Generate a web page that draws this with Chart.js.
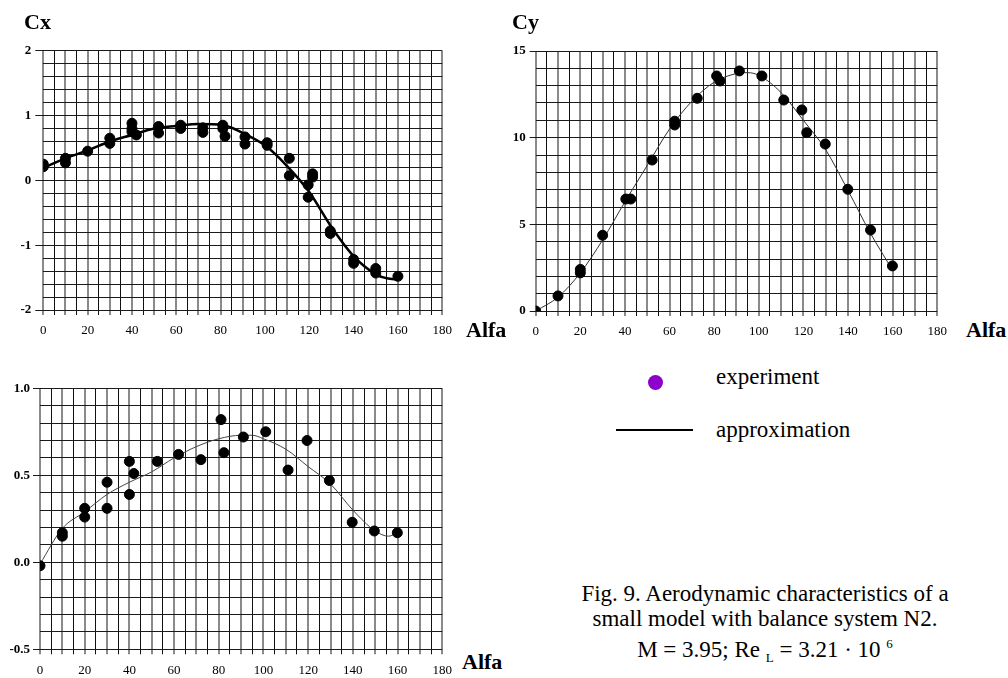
<!DOCTYPE html>
<html>
<head>
<meta charset="utf-8">
<script src="https://cdn.jsdelivr.net/npm/chart.js@4.4.0/dist/chart.umd.min.js"></script>
<style>
  body { margin: 0; background: #fff; width: 1008px; height: 678px; position: relative; overflow: hidden; font-family: "Times New Roman", Times, "Liberation Serif", "DejaVu Serif", serif; color: #000; }
  canvas { position: absolute; }
  .ttl { position: absolute; font-weight: bold; font-size: 22px; line-height: 22px; }
  .txt { position: absolute; font-size: 23px; line-height: 25px; }
</style>
</head>
<body>
<canvas id="chartCx" width="460" height="345" style="left:0;top:0"></canvas>
<canvas id="chartCy" width="460" height="345" style="left:495px;top:0"></canvas>
<canvas id="chartMz" width="460" height="328" style="left:0;top:350px"></canvas>

<div class="ttl" style="left:24px;top:11px">Cx</div>
<div class="ttl" style="left:512px;top:11px">Cy</div>
<div class="ttl" style="left:466px;top:319px">Alfa</div>
<div class="ttl" style="left:966px;top:319px">Alfa</div>
<div class="ttl" style="left:462px;top:651px">Alfa</div>

<!-- leyenda -->
<div style="position:absolute;left:648px;top:375px;width:15px;height:15px;border-radius:50%;background:#8e00cc"></div>
<div class="txt" style="left:716px;top:364px">experiment</div>
<div style="position:absolute;left:616px;top:429px;width:77px;height:2px;background:#000"></div>
<div class="txt" style="left:716px;top:417px">approximation</div>

<!-- pie de figura -->
<div class="txt" style="left:560px;top:581px;width:410px;text-align:center">
  Fig. 9. Aerodynamic characteristics of a<br>
  small model with balance system N2.<br>
  M = 3.95; Re <sub style="font-size:13px">L</sub> = 3.21 · 10 <sup style="font-size:13px">6</sup>
</div>

<script>
const serif = '"Times New Roman", Times, "Liberation Serif", "DejaVu Serif", serif';

// ----- Cx -----
const cxAlfa = [0, 0, 10, 10, 20, 30, 30, 40, 40, 40, 42, 52, 52, 62, 62, 72, 72, 81, 81, 82, 91, 91, 101, 101, 111, 111, 119.5, 119.5, 121.5, 121.5, 129.5, 129.5, 140, 140, 150, 150, 160];
const cxExp  = [0.25, 0.21, 0.34, 0.27, 0.45, 0.65, 0.57, 0.88, 0.80, 0.75, 0.70, 0.83, 0.73, 0.85, 0.80, 0.81, 0.74, 0.85, 0.80, 0.68, 0.67, 0.56, 0.58, 0.54, 0.34, 0.07, -0.07, -0.26, 0.10, 0.05, -0.78, -0.82, -1.22, -1.28, -1.36, -1.43, -1.48];
const cxFitAlfa = [0, 10, 20, 30, 40, 50, 60, 70, 80, 90, 100, 110, 120, 130, 140, 150, 155, 160];
const cxFit     = [0.19, 0.34, 0.46, 0.60, 0.70, 0.80, 0.84, 0.87, 0.86, 0.73, 0.54, 0.22, -0.18, -0.72, -1.17, -1.45, -1.51, -1.53];

// ----- Cy -----
const cyAlfa = [0, 10, 20, 20, 30, 40.4, 42.6, 52.2, 62.3, 62.3, 72.4, 81.1, 82.6, 91.3, 101.4, 111.2, 119.3, 121.5, 129.8, 139.9, 150.1, 159.9];
const cyExp  = [0.0, 0.87, 2.4, 2.2, 4.37, 6.46, 6.46, 8.71, 10.73, 10.95, 12.27, 13.56, 13.27, 13.85, 13.56, 12.17, 11.6, 10.29, 9.63, 7.02, 4.67, 2.6];
const cyFitAlfa = [0, 10, 20, 30, 40, 50, 60, 70, 80, 90, 95, 100, 110, 120, 130, 140, 150, 160];
const cyFit     = [0.0, 0.8, 2.2, 4.1, 6.3, 8.4, 10.5, 12.1, 13.2, 13.7, 13.75, 13.6, 12.6, 11.0, 9.3, 6.95, 4.5, 2.35];

// ----- grafico inferior -----
const mzAlfa = [0, 10, 10, 20, 20, 30, 30, 40, 40, 42, 52.5, 62, 72, 81, 82.3, 91, 101, 111, 119.5, 129.5, 139.7, 149.6, 159.9];
const mzExp  = [-0.02, 0.17, 0.15, 0.31, 0.26, 0.46, 0.31, 0.58, 0.39, 0.51, 0.58, 0.62, 0.59, 0.82, 0.63, 0.72, 0.75, 0.53, 0.70, 0.47, 0.23, 0.18, 0.17];
const mzFitAlfa = [0, 10, 20, 30, 40, 50, 60, 70, 80, 90, 95, 100, 110, 120, 130, 140, 150, 156, 160];
const mzFit     = [-0.01, 0.195, 0.29, 0.39, 0.46, 0.52, 0.60, 0.665, 0.71, 0.73, 0.73, 0.71, 0.65, 0.55, 0.45, 0.30, 0.18, 0.15, 0.17];

const xTicksEvery = 20;

function pts(xs, ys) {
    return xs.map((x, i) => ({x: x, y: ys[i]}));
}

function isMult(v, m) {
    const r = v / m;
    return Math.abs(r - Math.round(r)) < 1e-6;
}

function makeChart(id, cfg) {
    new Chart(document.getElementById(id), {
        type: "scatter",
        data: {
            datasets: [
                {
                    label: "experiment",
                    data: pts(cfg.expX, cfg.expY),
                    backgroundColor: "#000",
                    borderColor: "#000",
                    pointRadius: 5,
                },
                {
                    label: "approximation",
                    data: pts(cfg.fitX, cfg.fitY),
                    showLine: true,
                    borderColor: cfg.lineColor,
                    borderWidth: cfg.lineWidth,
                    pointRadius: 0,
                    cubicInterpolationMode: "monotone",
                },
            ],
        },
        options: {
            responsive: false,
            animation: false,
            layout: { padding: cfg.padding },
            scales: {
                x: {
                    min: 0,
                    max: 180,
                    afterFit: (s) => { s.height = cfg.xHeight; },
                    border: { display: false },
                    ticks: {
                        stepSize: 5,
                        autoSkip: false,
                        maxRotation: 0,
                        padding: 8,
                        color: "#000",
                        font: { family: serif, size: 13 },
                        callback: (v) => isMult(v, xTicksEvery) ? String(v) : "",
                    },
                    grid: {
                        tickLength: 5,
                        color: (c) => isMult(c.tick.value, 10) ? "#8a8a8a" : "#111",
                        tickColor: (c) => isMult(c.tick.value, 10) ? "#8a8a8a" : "#111",
                        lineWidth: (c) => isMult(c.tick.value, 10) ? 2 : 1,
                    },
                },
                y: {
                    min: cfg.yMin,
                    max: cfg.yMax,
                    afterFit: (s) => { s.width = cfg.yWidth; },
                    border: { display: false },
                    ticks: {
                        stepSize: cfg.yStep,
                        autoSkip: false,
                        padding: cfg.yPad,
                        color: "#000",
                        font: { family: serif, size: 13, weight: "bold" },
                        callback: (v) => isMult(v, cfg.yLabelEvery) ? cfg.fmt(v) : "",
                    },
                    grid: {
                        tickLength: cfg.yTick,
                        color: "#1a1a1a",
                        tickColor: (c) => isMult(c.tick.value, cfg.yLabelEvery) ? "#1a1a1a" : "rgba(0,0,0,0)",
                        lineWidth: 1,
                    },
                },
            },
            plugins: {
                legend: { display: false },
                tooltip: { enabled: false },
            },
        },
    });
}

makeChart("chartCx", {
    expX: cxAlfa, expY: cxExp, fitX: cxFitAlfa, fitY: cxFit,
    lineColor: "#000", lineWidth: 2.5,
    yMin: -2, yMax: 2, yStep: 0.2, yLabelEvery: 1,
    fmt: (v) => String(Math.round(v)),
    padding: { top: 50.7, right: 10.6, left: 0, bottom: 0 },
    yWidth: 43.3, xHeight: 35, yTick: 8, yPad: 4,
});

makeChart("chartCy", {
    expX: cyAlfa, expY: cyExp, fitX: cyFitAlfa, fitY: cyFit,
    lineColor: "#333", lineWidth: 1,
    yMin: 0, yMax: 15, yStep: 1, yLabelEvery: 5,
    fmt: (v) => String(Math.round(v)),
    padding: { top: 51, right: 10.7, left: 0, bottom: 0 },
    yWidth: 40.7, xHeight: 34, yTick: 6, yPad: 4,
});

makeChart("chartMz", {
    expX: mzAlfa, expY: mzExp, fitX: mzFitAlfa, fitY: mzFit,
    lineColor: "#444", lineWidth: 1,
    yMin: -0.5, yMax: 1.0, yStep: 0.1, yLabelEvery: 0.5,
    fmt: (v) => (Math.round(v * 10) / 10).toFixed(1),
    padding: { top: 38.3, right: 13.1, left: 0, bottom: 0 },
    yWidth: 40, xHeight: 28.7, yTick: 7, yPad: 3,
});
</script>
</body>
</html>
